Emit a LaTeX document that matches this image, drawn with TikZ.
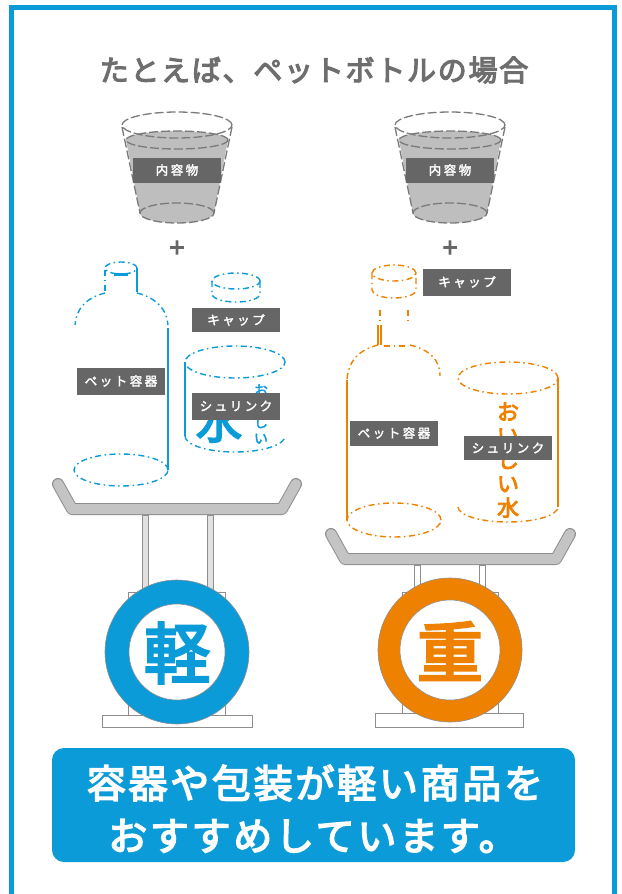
\documentclass[tikz,border=0pt]{standalone}
\usepackage{fontspec}
\newfontfamily\jp[FakeBold=2.5]{Noto Sans CJK JP}
\newfontfamily\jpheavy[FakeBold=4]{Noto Sans CJK JP}
\definecolor{mainblue}{HTML}{0A9BD8}
\definecolor{mainorange}{HTML}{EE8200}
\definecolor{labelgray}{HTML}{666666}
\definecolor{titlegray}{HTML}{6E6E6E}
\definecolor{cupgray}{HTML}{BEBEBE}
\definecolor{cupline}{HTML}{7A7A7A}
\definecolor{traygray}{HTML}{C4C4C4}
\definecolor{edgegray}{HTML}{8E8E8E}
\tikzset{
  lbl/.style={fill=labelgray, text=white, minimum width=88pt, minimum height=25pt, inner sep=0pt,
    font=\jp\fontsize{12.5}{12.5}\selectfont\addfontfeatures{LetterSpace=20}},
  dotted line/.style={line width=1.4pt, dash pattern=on 6pt off 3.5pt on 1.5pt off 3.5pt},
  cupdash/.style={draw=cupline, line width=1.3pt, dash pattern=on 9pt off 3pt},
  solidthin/.style={line width=1.1pt},
  post/.style={fill=#1, draw=edgegray, line width=0.6pt},
  ringback/.style={fill=white, draw=edgegray, line width=0.6pt},
  bigchar/.style={font=\jpheavy\fontsize{66}{66}\selectfont}
}
\begin{document}
\begin{tikzpicture}[x=1pt, y=-1pt]
\useasboundingbox (0,0) rectangle (621,894);
\fill[white] (0,0) rectangle (621,894);
% outer frame
\draw[mainblue, line width=5pt] (11,7) rectangle (614,910);

% heading
\node[text=titlegray, font=\jpheavy\fontsize{29}{29}\selectfont\addfontfeatures{LetterSpace=6}] (title) at (314,70) {たとえば、ペットボトルの場合};

% two cups of contents
\foreach \cx/\nm in {177/L, 450/R} {
  \fill[cupgray] (\cx-51,140) -- (\cx-37,213) arc[start angle=180, end angle=360, x radius=37pt, y radius=10pt]
     -- (\cx+51,140) arc[start angle=0, end angle=180, x radius=51pt, y radius=9pt] -- cycle;
  \draw[cupdash] (\cx,125) ellipse[x radius=55pt, y radius=13pt];
  \draw[cupdash] (\cx,140) ellipse[x radius=51pt, y radius=9pt];
  \draw[cupdash] (\cx,213) ellipse[x radius=37pt, y radius=10pt];
  \draw[cupdash] (\cx-55,127) -- (\cx-37,213);
  \draw[cupdash] (\cx+55,127) -- (\cx+37,213);
  \node[lbl] (cup\nm) at (\cx,170) {内容物};
  \node[text=labelgray, font=\jpheavy\fontsize{26}{26}\selectfont] (plus\nm) at (\cx,249) {+};
}

% ---------- light side (blue) ----------
\begin{scope}[draw=mainblue, mainblue]
  % bottle
  \draw[dotted line] (121,268) ellipse[x radius=16pt, y radius=6pt];
  \draw[line width=3pt] (114,274) -- (128,274);
  \draw[dotted line] (105,270) -- (105,292);
  \draw[solidthin] (137,268) -- (137,292);
  \draw[dotted line] (105,293) .. controls (85,298) and (76,310) .. (75,325);
  \draw[dotted line] (137,293) .. controls (157,298) and (167,310) .. (168,325);
  \draw[solidthin] (168,328) -- (168,470);
  \draw[dotted line] (121,470) ellipse[x radius=47pt, y radius=16pt];
  % cap
  \draw[dotted line] (236,281) ellipse[x radius=24pt, y radius=8pt];
  \draw[dotted line] (212,281) -- (212,294) arc[start angle=180, end angle=360, x radius=24pt, y radius=8pt] -- (260,281);
  % shrink film
  \draw[dotted line] (235,362) ellipse[x radius=50pt, y radius=16pt];
  \draw[solidthin] (185,362) -- (185,436);
  \draw[dotted line] (185,436) arc[start angle=180, end angle=360, x radius=50pt, y radius=16pt];
  \node[font=\jpheavy\fontsize{46}{46}\selectfont, text=mainblue] (waterL) at (219,421) {水};
  \node[font=\jp\fontsize{14}{16}\selectfont, text=mainblue, align=center, inner sep=0pt] (tasteL) at (261,414) {お\\い\\し\\い};
\end{scope}
\node[lbl, minimum height=27pt] (bottleL) at (121,381) {ペット容器};
\node[lbl, minimum height=24pt] (capL) at (236,320) {キャップ};
\node[lbl, minimum height=27pt] (shrinkL) at (236,406) {シュリンク};

% ---------- heavy side (orange) ----------
\begin{scope}[draw=mainorange]
  % cap
  \draw[dotted line] (394,273) ellipse[x radius=22pt, y radius=8pt];
  \draw[dotted line] (372,273) -- (372,290) arc[start angle=180, end angle=360, x radius=22pt, y radius=8pt] -- (416,273);
  % bottle neck and body
  \draw[dotted line] (380,310) -- (380,322);
  \draw[dotted line] (408,310) -- (408,322);
  \draw[solidthin] (378,325) -- (378,345);
  \draw[solidthin] (381,325) -- (381,345);
  \draw[dotted line] (384,346) -- (408,346);
  \draw[dotted line] (378,345) .. controls (358,350) and (348,362) .. (347,380);
  \draw[dotted line] (410,345) .. controls (430,350) and (440,360) .. (440,376);
  \draw[solidthin] (347,380) -- (347,520);
  \draw[dotted line] (394,520) ellipse[x radius=47pt, y radius=17pt];
  % shrink film
  \draw[dotted line] (508,378) ellipse[x radius=50pt, y radius=16pt];
  \draw[solidthin] (558,378) -- (558,507);
  \draw[dotted line] (458,507) arc[start angle=180, end angle=360, x radius=50pt, y radius=15pt];
\end{scope}
\node[font=\jpheavy\fontsize{22}{24}\selectfont, text=mainorange, align=center, inner sep=0pt] (tasteR) at (508,460) {お\\い\\し\\い\\水};
\node[lbl, minimum height=27pt] (capR) at (467,282) {キャップ};
\node[lbl] (bottleR) at (394,433) {ペット容器};
\node[lbl, minimum height=24pt] (shrinkR) at (508,448) {シュリンク};

% ---------- scales ----------
% light scale
\draw[edgegray, line width=12pt, line cap=round, line join=round] (58,484) -- (72,509) -- (282,509) -- (296,484);
\draw[traygray, line width=10pt, line cap=round, line join=round] (58,484) -- (72,509) -- (282,509) -- (296,484);
\draw[post=traygray!50] (142,515) rectangle (148,600);
\draw[post=traygray!50] (207,515) rectangle (213,600);
\draw[ringback] (102,715) rectangle (252,727);
\draw[ringback] (128,592) rectangle (225,715);
\fill[mainblue, draw=edgegray, line width=0.6pt] (177,652) circle[radius=72pt];
\fill[white, draw=edgegray, line width=0.6pt] (177,652) circle[radius=48pt];
\node[bigchar, text=mainblue] (light) at (177,653) {軽};

% heavy scale
\draw[edgegray, line width=12pt, line cap=round, line join=round] (331,534) -- (345,559) -- (556,559) -- (570,534);
\draw[traygray, line width=10pt, line cap=round, line join=round] (331,534) -- (345,559) -- (556,559) -- (570,534);
\draw[post=white] (414,565) rectangle (420,600);
\draw[post=white] (479,565) rectangle (485,600);
\draw[ringback] (375,713) rectangle (523,727);
\draw[ringback] (402,592) rectangle (498,713);
\fill[mainorange, draw=edgegray, line width=0.6pt] (450,650) circle[radius=72pt];
\fill[white, draw=edgegray, line width=0.6pt] (450,650) circle[radius=50pt];
\node[bigchar, text=mainorange] (heavy) at (450,651) {重};

% message panel
\fill[mainblue, rounded corners=12pt] (52,748) rectangle (575,862);
\node[text=white, font=\jpheavy\fontsize{39}{39}\selectfont\addfontfeatures{LetterSpace=7}] (msg1) at (315,783) {容器や包装が軽い商品を};
\node[text=white, font=\jpheavy\fontsize{39}{39}\selectfont\addfontfeatures{LetterSpace=7}] (msg2) at (313,836) {おすすめしています。};
\end{tikzpicture}
\end{document}
